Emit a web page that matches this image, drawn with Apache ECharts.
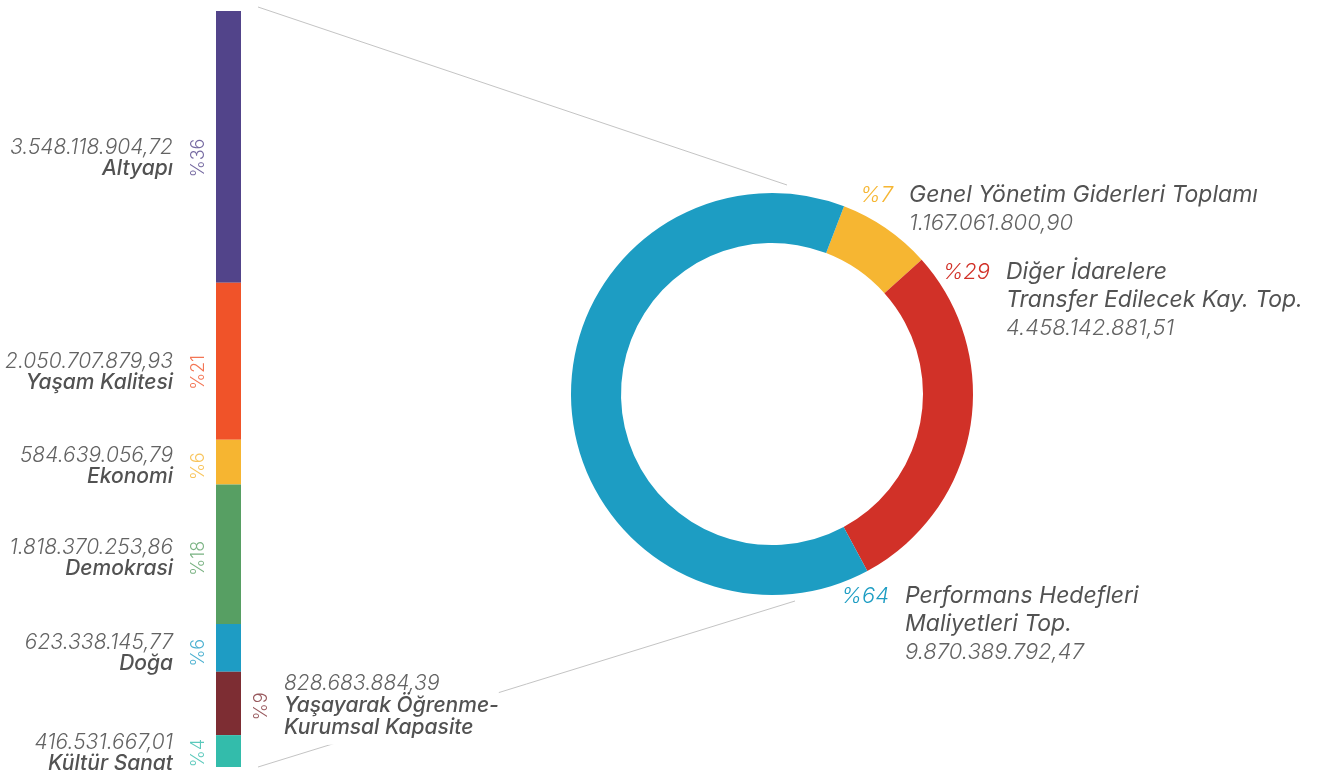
<!DOCTYPE html>
<html>
<head>
<meta charset="utf-8">
<script src="https://cdn.jsdelivr.net/npm/echarts@6/dist/echarts.min.js"></script>
<style>
  html, body { margin: 0; padding: 0; background: #fff; }
  #chart { width: 1324px; height: 774px; }
</style>
</head>
<body>
<div id="chart"></div>
<script>
// Spending by programme area (stacked column on the left)
const areaNames = [
  'Altyapı',
  'Yaşam Kalitesi',
  'Ekonomi',
  'Demokrasi',
  'Doğa',
  'Yaşayarak Öğrenme-\nKurumsal Kapasite',
  'Kültür Sanat'
];
const areaValues = [
  3548118904.72,
  2050707879.93,
  584639056.79,
  1818370253.86,
  623338145.77,
  828683884.39,
  416531667.01
];
const areaPercents = ['%36', '%21', '%6', '%18', '%6', '%9', '%4'];
const areaColors = ['#52448a', '#f05329', '#f6b531', '#579f63', '#1e9cc4', '#7d2d33', '#33bcab'];

// Budget totals (ring on the right)
const budgetNames = [
  'Genel Yönetim Giderleri Toplamı',
  'Diğer İdarelere\nTransfer Edilecek Kay. Top.',
  'Performans Hedefleri\nMaliyetleri Top.'
];
const budgetValues = [1167061800.90, 4458142881.51, 9870389792.47];
const budgetPercents = ['%7', '%29', '%64'];
const budgetColors = ['#f6b632', '#d13128', '#1d9dc3'];

// Turkish number format: 1.234.567,89
function trNumber(v) {
  const parts = v.toFixed(2).split('.');
  return parts[0].replace(/\B(?=(\d{3})+(?!\d))/g, '.') + ',' + parts[1];
}

const FONT = 'Inter, Roboto, "Liberation Sans", sans-serif';
const TEXT_DARK = '#525252';
const TEXT_LIGHT = '#636363';

const areaTotal = areaValues.reduce((a, b) => a + b, 0);
const RIGHT_SIDE = 5; // the learning/capacity segment is labelled on the right

// layout: how far (px) each column label block sits below its segment middle
const labelDrop = [11, 11, 4, 4, 5, 3, 2];

// middle of every stacked segment, in data units
const areaMids = [];
areaValues.reduce((acc, v) => { areaMids.push(acc + v / 2); return acc + v; }, 0);

const barSeries = areaValues.map((v, i) => {
  const right = i === RIGHT_SIDE;
  return {
    type: 'bar',
    name: areaNames[i].replace('\n', ' '),
    stack: 'areas',
    barWidth: '100%',
    barCategoryGap: 0,
    silent: true,
    data: [v],
    itemStyle: { color: areaColors[i] },
    label: {
      show: true,
      position: right ? 'right' : 'left',
      distance: 43,
      offset: [0, labelDrop[i] + (right ? 2 : 0)],
      backgroundColor: right ? '#ffffff' : 'transparent',
      padding: right ? [0, 0, 6, 0] : 0,
      formatter: () => '{v|' + trNumber(v) + '}\n{n|' + areaNames[i] + '}',
      rich: {
        v: { fontFamily: FONT, fontStyle: 'italic', fontWeight: 300, fontSize: 21, color: TEXT_LIGHT, lineHeight: right ? 23 : 21 },
        n: { fontFamily: FONT, fontStyle: 'italic', fontWeight: 500, fontSize: 21, color: TEXT_DARK, lineHeight: right ? 22 : 21 }
      }
    }
  };
});

// rotated percentage tags beside each segment
const percentSeries = {
  type: 'scatter',
  symbolSize: 0,
  silent: true,
  z: 5,
  data: areaMids.map((m, i) => ({
    value: [0, m],
    label: { color: areaColors[i] }
  })),
  label: {
    show: true,
    position: 'inside',
    rotate: 90,
    align: 'center',
    verticalAlign: 'middle',
    fontFamily: FONT,
    fontWeight: 300,
    fontSize: 18,
    formatter: p => areaPercents[p.dataIndex]
  },
  labelLayout: p => {
    const right = p.dataIndex === RIGHT_SIDE;
    const cx = p.rect.x + p.rect.width / 2;
    const cy = p.rect.y + p.rect.height / 2;
    return {
      x: cx + (right ? 33 : -30),
      y: cy + labelDrop[p.dataIndex],
      align: 'center',
      verticalAlign: 'middle'
    };
  }
};

const ringSeries = {
  type: 'pie',
  center: [772, 394],
  radius: [151, 201],
  startAngle: 69,
  clockwise: true,
  silent: true,
  label: { show: false },
  labelLine: { show: false },
  itemStyle: { borderWidth: 0 },
  data: budgetValues.map((v, i) => ({
    value: v,
    name: budgetNames[i],
    itemStyle: { color: budgetColors[i] }
  }))
};

// text blocks next to the ring: left edge of the name, top of the first line
const ringLabelSpots = [
  { x: 909, y: 181 },
  { x: 1006, y: 258 },
  { x: 905, y: 582 }
];
const LINE = 28;

const ringLabels = [];
budgetNames.forEach((name, i) => {
  const s = ringLabelSpots[i];
  const lines = name.split('\n').length;
  ringLabels.push({
    type: 'text', x: s.x - 16, y: s.y + LINE / 2, silent: true,
    style: { text: budgetPercents[i], fill: budgetColors[i], font: 'italic 300 22px ' + FONT, align: 'right', verticalAlign: 'middle' }
  });
  ringLabels.push({
    type: 'text', x: s.x, y: s.y, silent: true,
    style: { text: name, fill: TEXT_DARK, font: 'italic 23px ' + FONT, lineHeight: LINE, align: 'left', verticalAlign: 'top' }
  });
  ringLabels.push({
    type: 'text', x: s.x, y: s.y + lines * LINE + LINE / 2, silent: true,
    style: { text: trNumber(budgetValues[i]), fill: TEXT_LIGHT, font: 'italic 300 22px ' + FONT, align: 'left', verticalAlign: 'middle' }
  });
});

// thin connectors from the column to the ring
const connectorStyle = { stroke: '#c4c4c4', lineWidth: 1 };
const connectors = [
  { type: 'line', silent: true, z: -1, shape: { x1: 258, y1: 7, x2: 787, y2: 185 }, style: connectorStyle },
  { type: 'line', silent: true, z: -1, shape: { x1: 258, y1: 767, x2: 795, y2: 601 }, style: connectorStyle }
];

const chart = echarts.init(document.getElementById('chart'), null, { renderer: 'canvas' });
chart.setOption({
  animation: false,
  backgroundColor: '#ffffff',
  grid: { left: 216, width: 25, top: 11, height: 756 },
  xAxis: { type: 'category', data: ['alan'], show: false },
  yAxis: { type: 'value', inverse: true, min: 0, max: areaTotal, show: false },
  series: barSeries.concat([percentSeries, ringSeries]),
  graphic: connectors.concat(ringLabels)
});
</script>
</body>
</html>
